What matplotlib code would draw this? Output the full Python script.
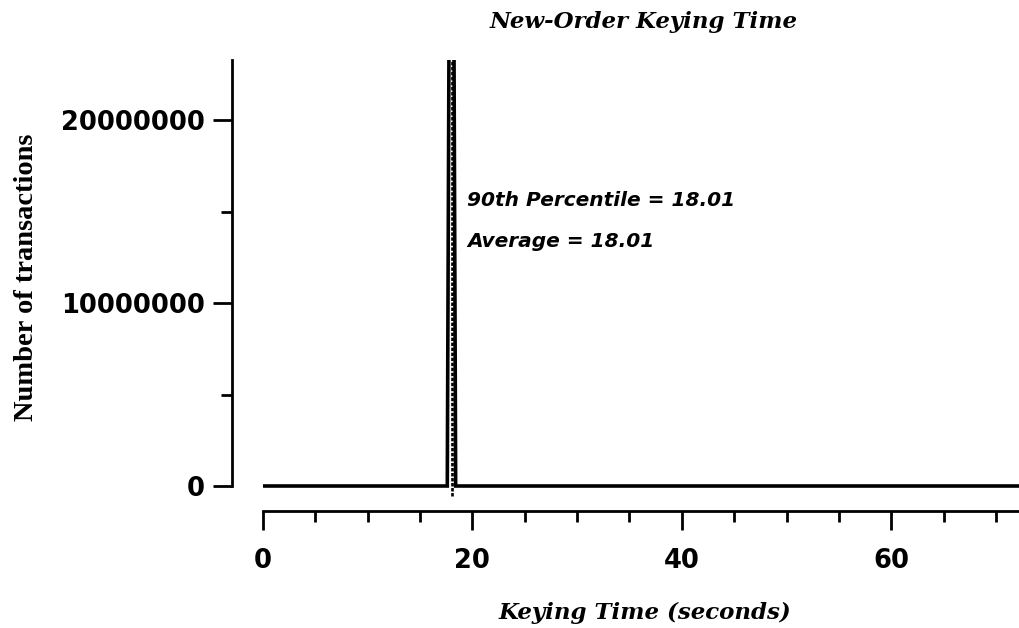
import numpy as np
import matplotlib
matplotlib.use("Agg")
import matplotlib.pyplot as plt
from matplotlib.ticker import MultipleLocator

# keying time histogram (seconds vs number of transactions)
keying_time = [0.0, 17.6, 18.0, 18.4, 72.2]
transactions = [0, 0, 60000000, 0, 0]

pct90 = 18.01
average = 18.01

title = "New-Order Keying Time"
xlabel = "Keying Time (seconds)"
ylabel = "Number of transactions"

W, H = 1019, 628
ytop = 23300000
ybot = -300000   # a little room so the zero line is not clipped
px_per_unit = (486 - 60) / ytop
bot_px = 486 - ybot * px_per_unit

fig = plt.figure(figsize=(W / 100, H / 100), dpi=100)
ax = fig.add_axes([263 / W, (H - bot_px) / H, (W - 263) / W, (bot_px - 60) / H])

ax.plot(keying_time, transactions, color="black", lw=2.6, solid_joinstyle="miter")
ax.axvline(pct90, color="black", lw=1.9, ls=(0, (1.3, 0.6)), ymin=-0.01, clip_on=False)

ax.set_xlim(0, 72.2)
ax.set_ylim(ybot, ytop)

for s in ["top", "right"]:
    ax.spines[s].set_visible(False)
ax.spines["left"].set_position(("outward", 22))
ax.spines["left"].set_bounds(0, ytop)
ax.spines["bottom"].set_position(("outward", (25 - (bot_px - 486)) * 0.72))
ax.spines["left"].set_linewidth(2)
ax.spines["bottom"].set_linewidth(2)

ax.xaxis.set_major_locator(MultipleLocator(20))
ax.xaxis.set_minor_locator(MultipleLocator(5))
ax.yaxis.set_major_locator(MultipleLocator(10000000))
ax.yaxis.set_minor_locator(MultipleLocator(5000000))

tick_font = dict(family="DejaVu Sans", weight="bold", size=18.5)
ax.tick_params(axis="both", which="major", length=14, width=2, direction="out")
ax.tick_params(axis="both", which="minor", length=8, width=2, direction="out")
ax.tick_params(axis="x", which="major", pad=13)
ax.tick_params(axis="y", which="major", pad=6)
ax.set_xticks([0, 20, 40, 60])
ax.set_xticklabels(["0", "20", "40", "60"], **tick_font)
ax.set_yticks([0, 10000000, 20000000])
ax.set_yticklabels(["0", "10000000", "20000000"], **tick_font)

ann_font = dict(family="DejaVu Sans", weight="bold", style="italic", size=14.5, va="baseline")
ax.text(19.5, 15300000, f"90th Percentile = {pct90:.2f}", **ann_font)
ax.text(19.5, 13050000, f"Average = {average:.2f}", **ann_font)

serif_bi = dict(family="DejaVu Serif", weight="bold", style="italic", size=16.5)
fig.text(644 / W, 1 - 28 / H, title, ha="center", va="baseline", **serif_bi)
fig.text(645 / W, 1 - 619 / H, xlabel, ha="center", va="baseline", **serif_bi)
fig.text(33 / W, 1 - 277 / H, ylabel, ha="center", va="baseline", rotation=90,
         rotation_mode="anchor", family="Liberation Serif", weight="bold", size=20.5)

fig.savefig("out.png", dpi=100)
